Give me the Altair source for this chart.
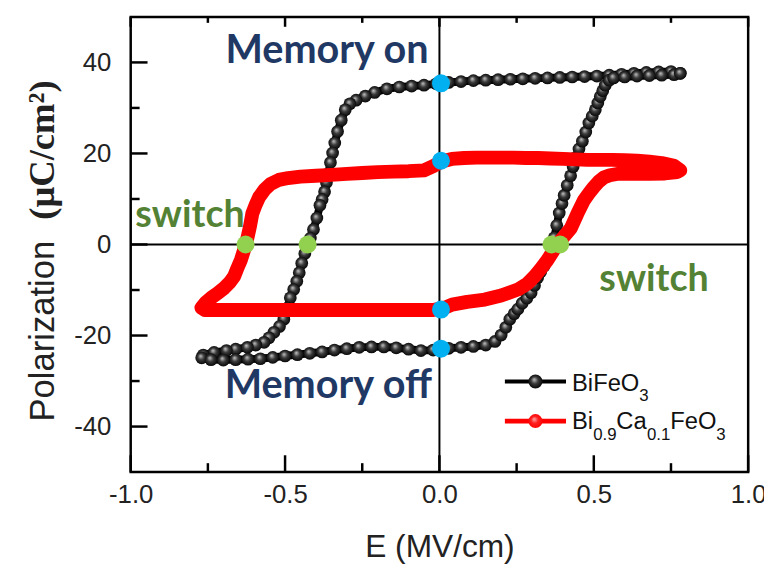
import altair as alt
import pandas as pd

# ---------------- data ----------------
# BiFeO3 loop, traced in order (E in MV/cm, P in uC/cm2)
bfo_E = [0.78, 0.75, 0.71, 0.67, 0.63, 0.59, 0.55, 0.51, 0.47, 0.43, 0.39, 0.35, 0.31, 0.27,
         0.23, 0.19, 0.15, 0.11, 0.07, 0.03, -0.01, -0.05, -0.09, -0.13, -0.17, -0.21, -0.24,
         -0.27, -0.29,
         -0.305, -0.318, -0.330, -0.339, -0.346, -0.353, -0.360, -0.366, -0.372, -0.380,
         -0.387, -0.397, -0.408, -0.418, -0.427, -0.436, -0.446, -0.454, -0.462, -0.472,
         -0.483, -0.493, -0.504, -0.518, -0.536, -0.552, -0.568, -0.595, -0.622, -0.66,
         -0.69, -0.73, -0.765,
         -0.77, -0.74, -0.70, -0.66, -0.62, -0.58, -0.54, -0.50, -0.46, -0.42, -0.38, -0.34,
         -0.30, -0.26, -0.22, -0.18, -0.14, -0.10, -0.06, -0.02, 0.03, 0.07, 0.11, 0.15,
         0.18, 0.20, 0.215, 0.228, 0.242, 0.254, 0.268, 0.283, 0.297, 0.308, 0.318, 0.328,
         0.339, 0.350, 0.362, 0.372, 0.380, 0.388, 0.397, 0.404, 0.414, 0.425, 0.433, 0.441,
         0.452, 0.463, 0.474, 0.484, 0.495, 0.505, 0.513, 0.521, 0.529, 0.537, 0.550, 0.564,
         0.60, 0.64, 0.68, 0.72, 0.76, 0.78]
bfo_P = [37.6, 38.0, 37.9, 37.8, 37.6, 37.4, 37.2, 37.0, 36.9, 36.8, 36.7, 36.6, 36.5, 36.4,
         36.3, 36.2, 36.1, 36.0, 35.8, 35.6, 35.3, 35.0, 34.8, 34.6, 34.2, 33.4, 32.6,
         31.7, 30.9,
         29.6, 27.3, 24.8, 22.3, 20.1, 18.0, 15.6, 13.6, 11.6, 9.9,
         8.6, 5.8, 3.3, 1.4, 0.0, -2.0, -4.1, -6.2, -8.1, -9.9,
         -11.7, -14.0, -16.4, -18.0, -19.3, -20.5, -21.5, -22.1, -22.6, -23.0,
         -23.3, -23.7, -24.3,
         -24.9, -25.3, -25.4, -25.3, -25.2, -25.1, -24.8, -24.5, -24.2, -23.9, -23.6, -23.2,
         -22.9, -22.6, -22.5, -22.5, -22.7, -23.0, -23.3, -23.2, -22.8, -22.6, -22.4, -22.1,
         -21.3, -19.9, -18.2, -16.4, -15.2, -14.2, -12.9, -11.8, -10.6, -9.0, -7.3, -6.0,
         -4.7, -3.4, -1.7, 1.5, 4.2, 6.9, 9.0, 10.8, 13.0, 15.1, 17.1, 19.1,
         21.0, 22.7, 24.7, 26.7, 28.2, 29.6, 31.1, 32.5, 33.8, 35.0, 36.1, 36.6,
         36.8, 37.0, 37.1, 37.2, 37.3, 37.6]

# Bi0.9Ca0.1FeO3 loop, traced in order
bcfo_E = [0.78, 0.76, 0.72, 0.68, 0.64, 0.60, 0.56, 0.52, 0.48, 0.44, 0.40, 0.36, 0.32, 0.28,
          0.24, 0.20, 0.16, 0.12, 0.08, 0.04, 0.01, -0.02, -0.05, -0.10, -0.15, -0.20, -0.25,
          -0.30, -0.35, -0.40, -0.45, -0.49, -0.52, -0.547, -0.567, -0.584, -0.596, -0.606,
          -0.613, -0.620, -0.627, -0.635, -0.643, -0.655, -0.665, -0.680, -0.696, -0.718,
          -0.739, -0.758, -0.771,
          -0.76, -0.70, -0.60, -0.50, -0.40, -0.30, -0.20, -0.10, -0.02,
          0.02, 0.041, 0.09, 0.147, 0.20, 0.254, 0.285, 0.308, 0.330, 0.350, 0.367, 0.383,
          0.405, 0.425, 0.447, 0.468, 0.485, 0.500, 0.516, 0.532, 0.552, 0.575, 0.62, 0.68,
          0.73, 0.77, 0.78]
bcfo_P = [16.3, 17.3, 17.9, 18.2, 18.4, 18.5, 18.6, 18.6, 18.6, 18.7, 18.8, 18.9, 19.0, 19.0,
          19.1, 19.1, 19.1, 19.1, 19.0, 18.8, 18.3, 17.2, 16.3, 16.1, 16.0, 15.9, 15.7,
          15.5, 15.3, 15.1, 14.9, 14.6, 14.2, 13.3, 12.0, 10.4, 8.6, 6.8,
          4.2, 2.0, 0.0, -1.7, -3.4, -5.3, -7.0, -8.4, -9.5, -10.7,
          -11.7, -12.8, -13.9,
          -14.4, -14.4, -14.4, -14.4, -14.4, -14.4, -14.4, -14.4, -14.4,
          -13.8, -13.2, -12.6, -12.1, -11.2, -9.9, -8.6, -7.0, -5.2, -3.4, -1.6, 0.1,
          1.9, 3.5, 6.8, 9.7, 11.3, 12.6, 13.8, 14.7, 15.2, 15.5, 15.5, 15.5,
          15.6, 15.9, 16.3]

# highlighted points
memory_E = [0.005, 0.005, 0.005, 0.005]
memory_P = [35.4, 18.4, -14.3, -22.9]
switch_E = [-0.628, -0.427, 0.363, 0.391]
switch_P = [0.0, 0.0, 0.0, 0.0]

# axis ticks
x_major = [-1.0, -0.5, 0.0, 0.5, 1.0]
x_minor = [-0.75, -0.25, 0.25, 0.75]
y_major = [-40, -20, 0, 20, 40]
y_minor = [-30, -10, 10, 30]
zero_E = [0.0]
zero_P = [0.0]

# annotations
ann_text = ["Memory on", "Memory off", "switch", "switch"]
ann_E = [-0.035, -0.024, -0.985, 0.518]
ann_P = [39.9, -33.8, 3.8, -10.3]
ann_align = ["right", "right", "left", "left"]
ann_color = ["#1F3864", "#1F3864", "#548235", "#548235"]
ann_size = [40, 40, 38, 38]

# legend
leg_line_E = [0.212, 0.41]
leg_P = [-30.1, -38.8]
leg_mark_E = [0.311]
leg_text = ["BiFeO", "3", "Bi", "0.9", "Ca", "0.1", "FeO", "3"]
leg_text_E = [0.4295, 0.647, 0.4295, 0.498, 0.573, 0.672, 0.748, 0.897]
leg_text_P = [-32.1, -34.3, -40.6, -43.0, -40.6, -43.0, -40.6, -43.0]
leg_text_size = [24, 17, 24, 17, 24, 17, 24, 17]

# ---------------- chart ----------------
W, H = 624, 460
xs = alt.Scale(domain=[-1, 1], nice=False, zero=False)
ys = alt.Scale(domain=[-50, 50], nice=False, zero=False)

bfo = pd.DataFrame({"E": bfo_E, "P": bfo_P, "i": range(len(bfo_E))})
bcfo = pd.DataFrame({"E": bcfo_E, "P": bcfo_P, "i": range(len(bcfo_E))})

minus_fix = "replace(format(datum.value, '{f}'), '\u2212', '-')"

x_axis = alt.Axis(values=x_major, labelExpr=minus_fix.format(f=".1f"), ticks=False, domain=False,
                  grid=False, labelFont="Liberation Sans", labelFontSize=26, labelColor="#222222",
                  labelPadding=10, labelFlush=False, labelOverlap=False,
                  title="E (MV/cm)", titleFont="Liberation Sans", titleFontSize=32,
                  titleFontWeight="normal", titleColor="#222222", titlePadding=24)
y_axis = alt.Axis(values=y_major, labelExpr=minus_fix.format(f="d"), ticks=False, domain=False,
                  grid=False, labelFont="Liberation Sans", labelFontSize=26, labelColor="#222222",
                  labelPadding=20, labelFlush=False, labelOverlap=False, title="")

sphere_black = alt.RadialGradient(
    gradient="radial",
    stops=[alt.GradientStop(color="#c8c8c8", offset=0),
           alt.GradientStop(color="#3a3a3a", offset=0.45),
           alt.GradientStop(color="#000000", offset=1)],
    x1=0.4, y1=0.35, r1=0, x2=0.5, y2=0.5, r2=0.55)
sphere_red = alt.RadialGradient(
    gradient="radial",
    stops=[alt.GradientStop(color="#ffb0b0", offset=0),
           alt.GradientStop(color="#ff2020", offset=0.45),
           alt.GradientStop(color="#ff0000", offset=1)],
    x1=0.4, y1=0.35, r1=0, x2=0.5, y2=0.5, r2=0.55)


def X():
    return alt.X("E:Q", scale=xs)


def Y():
    return alt.Y("P:Q", scale=ys)


def enc():
    return dict(x=X(), y=Y())


# layer that carries the axes (black loop line)
black_line = alt.Chart(bfo).mark_line(color="black", strokeWidth=8, strokeJoin="round",
                                      strokeCap="round").encode(
    x=alt.X("E:Q", scale=xs, axis=x_axis),
    y=alt.Y("P:Q", scale=ys, axis=y_axis),
    order="i:Q")

# zero lines
zero_v = alt.Chart(pd.DataFrame({"E": zero_E})).mark_rule(color="black", strokeWidth=2).encode(x=X())
zero_h = alt.Chart(pd.DataFrame({"P": zero_P})).mark_rule(color="black", strokeWidth=2).encode(y=Y())


# inward ticks
def xticks(vals, y0, y1):
    return alt.Chart(pd.DataFrame({"E": vals})).mark_rule(color="black", strokeWidth=2.5).encode(
        x=X(), y=alt.value(y0), y2=alt.value(y1))


def yticks(vals, x0, x1):
    return alt.Chart(pd.DataFrame({"P": vals})).mark_rule(color="black", strokeWidth=2.5).encode(
        y=Y(), x=alt.value(x0), x2=alt.value(x1))


ticks = [xticks(x_major, H, H - 17), xticks(x_minor, H, H - 9),
         xticks(x_major, 0, 10), xticks(x_minor, 0, 6),
         yticks(y_major, 0, 17), yticks(y_minor, 0, 9)]

black_pts = alt.Chart(bfo).mark_circle(size=165, fill=sphere_black, opacity=1, strokeWidth=0).encode(**enc())
red_line = alt.Chart(bcfo).mark_line(color="#ff0000", strokeWidth=14, strokeJoin="round",
                                    strokeCap="round").encode(order="i:Q", **enc())

mem = alt.Chart(pd.DataFrame({"E": memory_E, "P": memory_P})).mark_circle(
    size=330, color="#00B0F0", opacity=1).encode(**enc())
sw = alt.Chart(pd.DataFrame({"E": switch_E, "P": switch_P})).mark_circle(
    size=330, color="#92D050", opacity=1).encode(**enc())

ann_df = pd.DataFrame({"E": ann_E, "P": ann_P, "t": ann_text})
ann_layers = []
for k in range(len(ann_text)):
    ann_layers.append(
        alt.Chart(ann_df.iloc[[k]]).mark_text(font="Lato", fontWeight="bold", fontSize=ann_size[k],
                                             align=ann_align[k], baseline="alphabetic",
                                             color=ann_color[k]).encode(text="t:N", **enc()))

# legend
leg_black_line = alt.Chart(pd.DataFrame({"E": leg_line_E, "P": [leg_P[0]] * 2})).mark_line(
    color="black", strokeWidth=4).encode(**enc())
leg_red_line = alt.Chart(pd.DataFrame({"E": leg_line_E, "P": [leg_P[1]] * 2})).mark_line(
    color="#ff0000", strokeWidth=5).encode(**enc())
leg_black_pt = alt.Chart(pd.DataFrame({"E": leg_mark_E, "P": [leg_P[0]]})).mark_circle(
    size=200, fill=sphere_black, opacity=1).encode(**enc())
leg_red_pt = alt.Chart(pd.DataFrame({"E": leg_mark_E, "P": [leg_P[1]]})).mark_circle(
    size=200, fill=sphere_red, opacity=1).encode(**enc())
leg_df = pd.DataFrame({"E": leg_text_E, "P": leg_text_P, "t": leg_text, "s": leg_text_size})
leg_txt = alt.Chart(leg_df).mark_text(font="Liberation Sans", align="left", baseline="alphabetic",
                                      color="#111111").encode(
    text="t:N", size=alt.Size("s:Q", scale=None, legend=None), **enc())

# y title (mixed fonts)
ytitle1 = alt.Chart(pd.DataFrame({"t": ["Polarization"]})).mark_text(
    font="Liberation Sans", fontSize=35, angle=270, align="left", baseline="middle",
    color="#222222").encode(text="t:N", x=alt.value(-89), y=alt.value(409))
ytitle2 = alt.Chart(pd.DataFrame({"t": ["(μC/cm²)"]})).mark_text(
    font="Liberation Serif", fontWeight="bold", fontSize=37, angle=270, align="right",
    baseline="middle", color="#222222").encode(text="t:N", x=alt.value(-89), y=alt.value(64))

chart = alt.layer(
    black_line, zero_v, zero_h, *ticks, black_pts, red_line, mem, sw, *ann_layers,
    leg_black_line, leg_red_line, leg_black_pt, leg_red_pt, leg_txt, ytitle1, ytitle2
).properties(
    width=W, height=H,
    background="white",
    autosize=alt.AutoSizeParams(type="none"),
    padding={"left": 124, "top": 6, "right": 16, "bottom": 100},
).configure_view(
    stroke="black", strokeWidth=2.5
)

chart.save("out.html", embed_options={"renderer": "svg", "actions": False})
